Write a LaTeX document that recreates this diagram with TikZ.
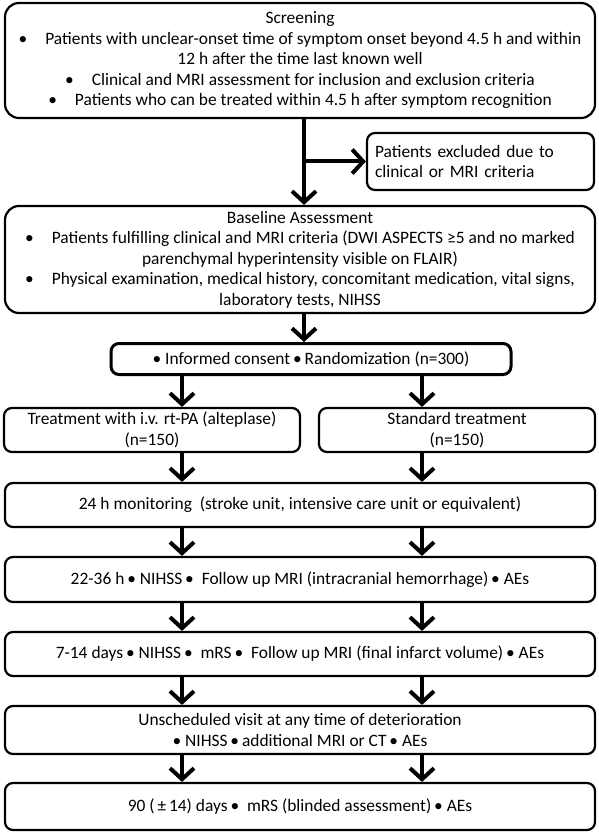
\documentclass[tikz,border=0pt]{standalone}
\usepackage{fontspec}
\setmainfont{Carlito}
\usetikzlibrary{arrows.meta}

\begin{document}
\begin{tikzpicture}[x=1pt, y=-1pt,
    box/.style={draw, line width=2.2pt, rounded corners=8pt, align=center, inner sep=0pt,
      font=\fontsize{17.4}{20.5}\selectfont},
    wide/.style={box, minimum width=590pt},
    flow/.style={-{Straight Barb[length=11pt, width=24pt]}, line width=4pt}]
    \useasboundingbox (0,0) rectangle (598,834);

    % Nodes
    \node[wide, minimum height=115pt, rounded corners=14pt] (scr) at (300,60.5) {Screening\\
      \textbullet\hspace{18pt}Patients with unclear-onset time of symptom onset beyond 4.5 h and within\\
      12 h after the time last known well\\
      \textbullet\hspace{18pt}Clinical and MRI assessment for inclusion and exclusion criteria\\
      \textbullet\hspace{18pt}Patients who can be treated within 4.5 h after symptom recognition};
    \node[box, minimum width=227pt, minimum height=57pt, text width=211pt, align=left] (excl) at (480.5,161.5)
      {Patients excluded due to\\ clinical or MRI criteria};
    \node[wide, minimum height=107pt, rounded corners=14pt] (base) at (300,259.5) {Baseline Assessment\\
      \textbullet\hspace{18pt}Patients fulfilling clinical and MRI criteria (DWI ASPECTS ≥5 and no marked\\
      parenchymal hyperintensity visible on FLAIR)\\
      \textbullet\hspace{18pt}Physical examination, medical history, concomitant medication, vital signs,\\
      laboratory tests, NIHSS};
    \node[box, line width=3pt, minimum width=400pt, minimum height=31pt] (rand) at (311,359)
      {\textbullet\ Informed consent\,\textbullet\,Randomization (n=300)};
    \node[box, minimum width=296pt, minimum height=44pt] (treat) at (152,430)
      {Treatment with i.v. rt-PA (alteplase)\\ (n=150)};
    \node[box, minimum width=276pt, minimum height=44pt] (std) at (457,430)
      {Standard treatment\\ (n=150)};
    \node[wide, minimum height=44pt] (mon) at (300,505)
      {24 h monitoring\ \ (stroke unit, intensive care unit or equivalent)};
    \node[wide, minimum height=45pt] (early) at (300,579.5)
      {22-36 h\,\textbullet\ NIHSS\,\textbullet\ \ Follow up MRI (intracranial hemorrhage)\,\textbullet\ AEs};
    \node[wide, minimum height=44pt] (week) at (300,654)
      {7-14 days\,\textbullet\ NIHSS\,\textbullet\ \ mRS\,\textbullet\ \ Follow up MRI (final infarct volume)\,\textbullet\ AEs};
    \node[wide, minimum height=48pt] (visit) at (300,730)
      {Unscheduled visit at any time of deterioration\\ \textbullet\ NIHSS\,\textbullet\,additional MRI or CT\,\textbullet\ AEs};
    \node[wide, minimum height=47pt] (final) at (300,806.5)
      {90 (\,±\,14) days\,\textbullet\ \ mRS (blinded assessment)\,\textbullet\ AEs};

    % Columns of the arrows
    \coordinate (stem) at (304,0);
    \coordinate (colL) at (182,0);
    \coordinate (colR) at (422,0);
    \coordinate (fork) at (stem |- excl.west);

    % Arrows
    \draw[flow] (scr.south -| stem) -- (base.north -| stem);
    \draw[flow] (fork) -- (excl.west);
    \draw[flow] (base.south -| stem) -- (rand.north -| stem);
    \draw[flow] (rand.south -| colL) -- (treat.north -| colL);
    \draw[flow] (rand.south -| colR) -- (std.north -| colR);
    \draw[flow] (treat.south -| colL) -- (mon.north -| colL);
    \draw[flow] (std.south -| colR) -- (mon.north -| colR);
    \draw[flow] (mon.south -| colL) -- (early.north -| colL);
    \draw[flow] (mon.south -| colR) -- (early.north -| colR);
    \draw[flow] (early.south -| colL) -- (week.north -| colL);
    \draw[flow] (early.south -| colR) -- (week.north -| colR);
    \draw[flow] (week.south -| colL) -- (visit.north -| colL);
    \draw[flow] (week.south -| colR) -- (visit.north -| colR);
    \draw[flow] (visit.south -| colL) -- (final.north -| colL);
    \draw[flow] (visit.south -| colR) -- (final.north -| colR);
\end{tikzpicture}
\end{document}
